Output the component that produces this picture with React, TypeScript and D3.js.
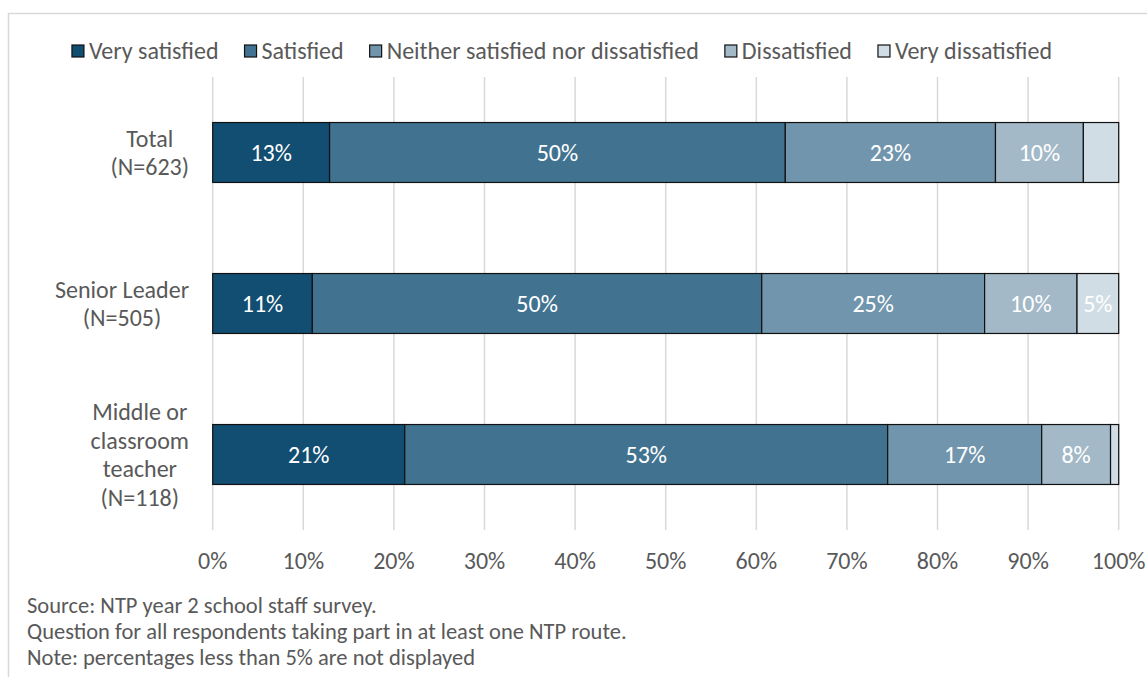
import React, { useEffect, useRef } from "react";
import * as d3 from "d3";

// Satisfaction response categories, in stacking order
const responses = [
  "Very satisfied",
  "Satisfied",
  "Neither satisfied nor dissatisfied",
  "Dissatisfied",
  "Very dissatisfied",
];

const groups = ["Total", "Senior Leader", "Middle or classroom teacher"];
const groupLabels = [
  ["Total", "(N=623)"],
  ["Senior Leader", "(N=505)"],
  ["Middle or", "classroom", "teacher", "(N=118)"],
];

// Percentages per group, one array per response category
const verySatisfied = [12.9, 11.0, 21.2];
const satisfied = [50.3, 49.6, 53.3];
const neither = [23.2, 24.6, 17.0];
const dissatisfied = [9.7, 10.2, 7.6];
const veryDissatisfied = [3.9, 4.6, 0.9];

const xTicks = [0, 10, 20, 30, 40, 50, 60, 70, 80, 90, 100];

const notes = [
  "Source: NTP year 2 school staff survey.",
  "Question for all respondents taking part in at least one NTP route.",
  "Note: percentages less than 5% are not displayed",
];

const colors = ["#124d72", "#417391", "#7195ac", "#a3b9c8", "#d1dde5"];

const W = 1147;
const H = 677;
const FONT = "Carlito, Calibri, Lato, 'Open Sans', sans-serif";
const FS = "24px";
const NOTE_FS = "22.5px";
const TEXT = "#595959";

export default function App() {
  const ref = useRef<SVGSVGElement>(null);

  useEffect(() => {
    const svg = d3.select(ref.current);
    svg.selectAll("*").remove();

    const rows = groups.map((g, i) => ({
      group: g,
      [responses[0]]: verySatisfied[i],
      [responses[1]]: satisfied[i],
      [responses[2]]: neither[i],
      [responses[3]]: dissatisfied[i],
      [responses[4]]: veryDissatisfied[i],
    }));

    const x = d3.scaleLinear().domain([0, 100]).range([212.7, 1118.7]);
    const y = d3
      .scaleBand<string>()
      .domain(groups)
      .range([77, 530])
      .paddingInner(0.603)
      .paddingOuter(0.3015);

    const color = d3.scaleOrdinal<string, string>().domain(responses).range(colors);

    // outer frame
    svg
      .append("rect")
      .attr("x", 8.5)
      .attr("y", 13.5)
      .attr("width", W)
      .attr("height", H)
      .attr("fill", "#fff")
      .attr("stroke", "#d9d9d9")
      .attr("stroke-width", 1.5);

    // vertical gridlines
    svg
      .append("g")
      .selectAll("line")
      .data(xTicks)
      .join("line")
      .attr("x1", (d) => x(d))
      .attr("x2", (d) => x(d))
      .attr("y1", 77)
      .attr("y2", 530)
      .attr("stroke", "#d9d9d9")
      .attr("stroke-width", 1.5);

    // x tick labels
    svg
      .append("g")
      .selectAll("text")
      .data(xTicks)
      .join("text")
      .attr("x", (d) => x(d))
      .attr("y", 561)
      .attr("dy", "0.35em")
      .attr("text-anchor", "middle")
      .attr("fill", TEXT)
      .style("font-family", FONT)
      .style("font-size", FS)
      .text((d) => `${d}%`);

    const stacked = d3.stack<any>().keys(responses)(rows as any);

    const layers = svg
      .append("g")
      .selectAll("g")
      .data(stacked)
      .join("g")
      .attr("fill", (d) => color(d.key));

    layers
      .selectAll("rect")
      .data((d) => d)
      .join("rect")
      .attr("x", (d) => x(d[0]))
      .attr("width", (d) => x(d[1]) - x(d[0]))
      .attr("y", (d: any) => y(d.data.group)!)
      .attr("height", y.bandwidth())
      .attr("stroke", "#111")
      .attr("stroke-width", 1.2);

    // value labels inside segments
    layers
      .selectAll("text")
      .data((d) => d.filter((s) => Math.round(s[1] - s[0]) >= 5))
      .join("text")
      .attr("x", (d) => (x(d[0]) + x(d[1])) / 2)
      .attr("y", (d: any) => y(d.data.group)! + y.bandwidth() / 2)
      .attr("dy", "0.35em")
      .attr("text-anchor", "middle")
      .attr("fill", "#fff")
      .style("font-family", FONT)
      .style("font-size", FS)
      .text((d) => `${Math.round(d[1] - d[0])}%`);

    // category labels: each block centred on itself, right edge near the axis
    const lineH = 28.7;
    const labelRight = 189;
    groups.forEach((g, i) => {
      const lines = groupLabels[i];
      const cy = y(g)! + y.bandwidth() / 2;
      const t = svg
        .append("text")
        .attr("text-anchor", "middle")
        .attr("fill", TEXT)
        .style("font-family", FONT)
        .style("font-size", FS);
      const spans = lines.map((l, j) =>
        t
          .append("tspan")
          .attr("y", cy + (j - (lines.length - 1) / 2) * lineH)
          .attr("dy", "0.35em")
          .text(l)
      );
      const maxW = d3.max(spans, (s) => (s.node() as SVGTSpanElement).getComputedTextLength()) || 0;
      spans.forEach((s) => s.attr("x", labelRight - maxW / 2));
    });

    // legend
    const legend = svg.append("g");
    const items = legend.selectAll("g").data(responses).join("g");
    items
      .append("rect")
      .attr("width", 12)
      .attr("height", 12)
      .attr("y", -6)
      .attr("fill", (d) => color(d))
      .attr("stroke", "#111")
      .attr("stroke-width", 1.2);
    items
      .append("text")
      .attr("x", 17)
      .attr("dy", "0.35em")
      .attr("fill", TEXT)
      .style("font-family", FONT)
      .style("font-size", FS)
      .text((d) => d);
    const gap = 26;
    let cursor = 0;
    const offsets: number[] = [];
    items.each(function () {
      const tw = (d3.select(this).select("text").node() as SVGTextElement).getComputedTextLength();
      offsets.push(cursor);
      cursor += 17 + tw + gap;
    });
    const total = cursor - gap;
    const start = 562 - total / 2;
    items.attr("transform", (_, i) => `translate(${start + offsets[i]},51)`);

    // footnotes
    svg
      .append("g")
      .selectAll("text")
      .data(notes)
      .join("text")
      .attr("x", 27)
      .attr("y", (_, i) => 605 + i * 26)
      .attr("dy", "0.35em")
      .attr("fill", TEXT)
      .style("font-family", FONT)
      .style("font-size", NOTE_FS)
      .text((d) => d);
  }, []);

  return (
    <svg
      ref={ref}
      width={W}
      height={H}
      style={{ position: "absolute", left: 0, top: 0, background: "#fff" }}
    />
  );
}
